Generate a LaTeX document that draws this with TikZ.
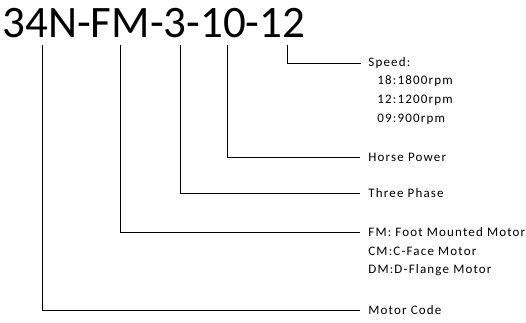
\documentclass[tikz,border=0pt]{standalone}
\usepackage{fontspec}
\setmainfont{Carlito}
\newfontfamily\lblfont[LetterSpace=9]{Carlito}
\usetikzlibrary{positioning}

\begin{document}
\begin{tikzpicture}[x=1pt,y=-1pt,line width=0.8pt,
  lbl/.style={anchor=west,inner sep=0pt,font=\lblfont\fontsize{13}{15}\selectfont}]
\useasboundingbox (0,0) rectangle (526,322);
\node[anchor=base west,inner sep=0pt,font=\fontsize{45}{50}\selectfont] (code) at (2,37) {34N-FM-3-10-12};
\coordinate (m1) at (42,45);
\coordinate (m2) at (120,45);
\coordinate (m3) at (180,45);
\coordinate (m4) at (227,45);
\coordinate (m5) at (287,45);
\node[lbl] (speed) at (368,63) {Speed:};
\node[lbl] (s18) at (377,81) {18:1800rpm};
\node[lbl] (s12) at (377,100) {12:1200rpm};
\node[lbl] (s09) at (377,119) {09:900rpm};
\node[lbl] (hp) at (368,157) {Horse Power};
\node[lbl] (ph) at (368,193) {Three Phase};
\node[lbl] (fm) at (368,232) {FM: Foot Mounted Motor};
\node[lbl] (cm) at (368,251) {CM:C-Face Motor};
\node[lbl] (dm) at (368,270) {DM:D-Flange Motor};
\node[lbl] (mc) at (368,310) {Motor Code};
\draw (m5) |- ([xshift=-7pt]speed.west);
\draw (m4) |- ([xshift=-8pt]hp.west);
\draw (m3) |- ([xshift=-8pt]ph.west);
\draw (m2) |- ([xshift=-8pt]fm.west);
\draw (m1) |- ([xshift=-8pt]mc.west);
\end{tikzpicture}
\end{document}
